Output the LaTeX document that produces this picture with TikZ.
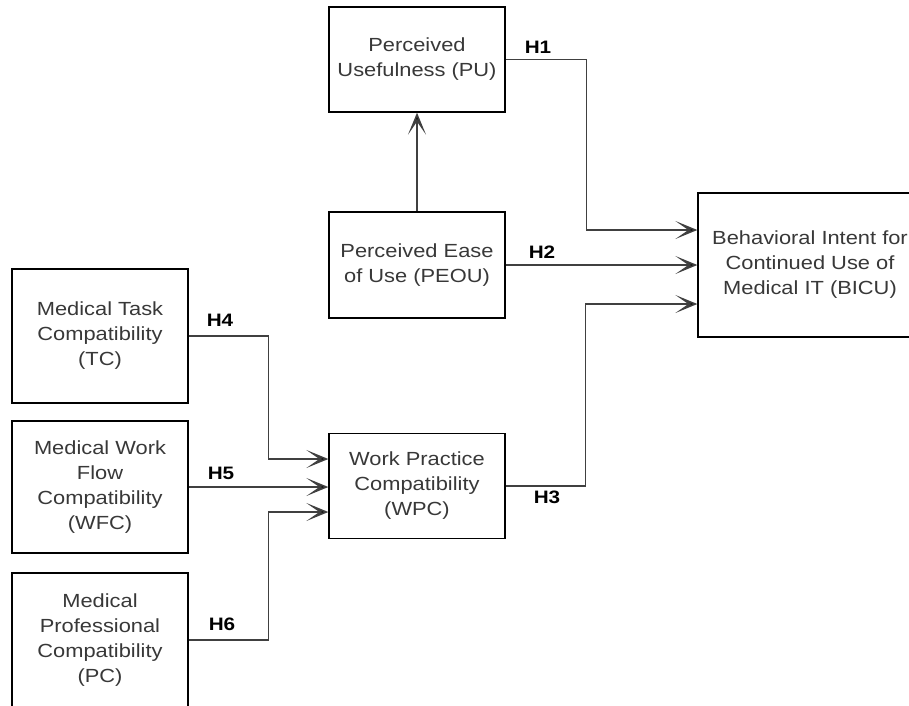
\documentclass[tikz,border=0pt]{standalone}
\usepackage{fontspec}
\setmainfont{Liberation Sans}[FakeStretch=1.15]
\usetikzlibrary{arrows.meta}

\begin{document}
\begin{tikzpicture}[x=1pt,y=-1pt,
  box/.style={draw=black, line width=1.3pt, align=center, text=black!78,
    font=\fontsize{19}{25}\selectfont, inner sep=0pt, minimum width=176pt},
  hyp/.style={font=\bfseries\fontsize{18}{20}\selectfont, text=black},
  link/.style={line width=1.6pt, draw=black!75, -{Stealth[length=22pt,width=18pt,inset=13pt,fill=black]}}]
\clip (0,0) rectangle (909,705);
\fill[white] (0,0) rectangle (909,705);
\node[box, minimum height=105pt] (pu) at (417,59.5) {Perceived\\Usefulness (PU)};
\node[box, minimum height=106pt] (peou) at (417,265) {Perceived Ease\\of Use (PEOU)};
\node[box, minimum width=224pt, minimum height=144pt] (bicu) at (810,265) {Behavioral Intent for\\Continued Use of\\Medical IT (BICU)};
\node[box, minimum height=134pt] (tc) at (100,336) {Medical Task\\Compatibility\\(TC)};
\node[box, minimum height=132pt] (wfc) at (100,487) {Medical Work\\Flow\\Compatibility\\(WFC)};
\node[box, minimum height=134pt] (pc) at (100,640) {Medical\\Professional\\Compatibility\\(PC)};
\node[box, minimum height=105pt] (wpc) at (417,486) {Work Practice\\Compatibility\\(WPC)};

\draw[link] (peou.north) -- (pu.south);
\draw[link] (pu.east) -- ++(81,0) |- ([yshift=35pt]bicu.west);
\draw[link] (peou.east) -- (bicu.west);
\draw[link] (wpc.east) -- ++(80,0) |- ([yshift=-39pt]bicu.west);
\draw[link] (tc.east) -- ++(80,0) |- ([yshift=27pt]wpc.west);
\draw[link] (wfc.east) -- (wfc.east -| wpc.west);
\draw[link] (pc.east) -- ++(80,0) |- ([yshift=-26pt]wpc.west);

\node[hyp] (h1) at (538,47) {H1};
\node[hyp] (h2) at (542,252) {H2};
\node[hyp] (h3) at (547,497) {H3};
\node[hyp] (h4) at (220,320) {H4};
\node[hyp] (h5) at (221,473) {H5};
\node[hyp] (h6) at (222,624) {H6};
\end{tikzpicture}
\end{document}
